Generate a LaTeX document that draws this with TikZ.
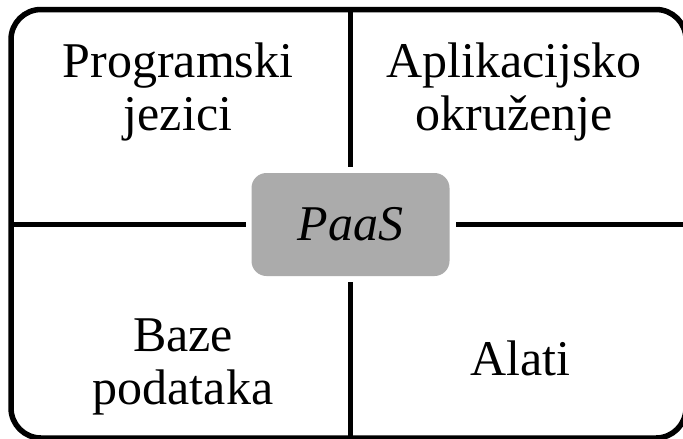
\documentclass[tikz,border=0pt]{standalone}
\usepackage{fontspec}
\setmainfont{Liberation Serif}
\usepackage{tikz}
\pgfdeclarelayer{bg}
\pgfsetlayers{bg,main}
\definecolor{paasgray}{HTML}{ABABAB}
\tikzset{
    every node/.style={inner sep=0mm, align=center, font=\fontsize{50}{53}\selectfont}
}
\tikzset{core/.style={rectangle, rounded corners=15pt, fill=paasgray, minimum width=198pt, minimum height=103pt, outer sep=6pt, font=\fontsize{50}{53}\selectfont\itshape}}
\tikzset{divider/.style={line width=5pt}}

\begin{document}
\begin{tikzpicture}[x=1pt, y=-1pt]
        \useasboundingbox (0,0) rectangle (683,439);
        \node (q0) at (178, 92) {Programski\\jezici};
        \node (q1) at (514, 92) {Aplikacijsko\\okruženje};
        \node (q2) at (183, 367) {Baze\\podataka};
        \node (q3) at (520, 358) {Alati};
        \node (paas) [core] at (350.5, 224.5) {PaaS};
        \coordinate (top) at (350.5, 9.5);
        \coordinate (bot) at (350.5, 438);
        \coordinate (lft) at (11, 224.5);
        \coordinate (rgt) at (686, 224.5);
        \begin{pgfonlayer}{bg}
                \draw [line width=5.5pt, rounded corners=30pt] (lft |- top) rectangle (rgt |- bot);
                \draw (top) edge [divider] (paas);
                \draw (bot) edge [divider] (paas);
                \draw (lft) edge [divider] (paas);
                \draw (rgt) edge [divider] (paas);
        \end{pgfonlayer}
\end{tikzpicture}
\end{document}
